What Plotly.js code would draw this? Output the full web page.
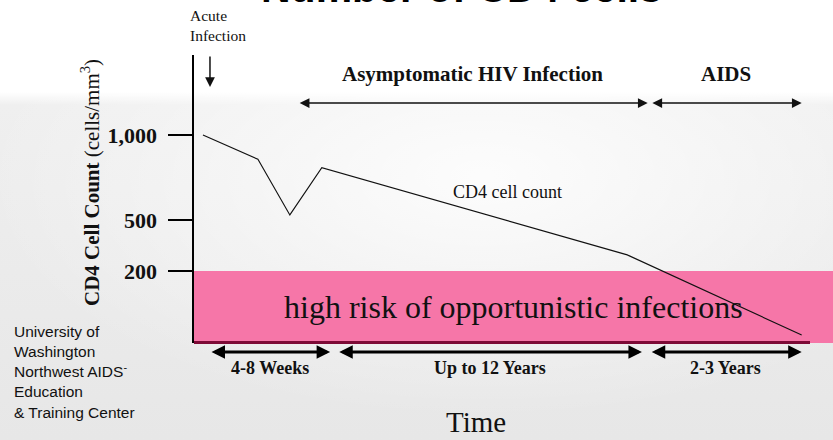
<!DOCTYPE html>
<html>
<head>
<meta charset="utf-8">
<script src="https://cdn.plot.ly/plotly-3.0.1.min.js"></script>
<style>
  html, body { margin: 0; padding: 0; }
  body {
    width: 833px; height: 440px; overflow: hidden;
    background:
      radial-gradient(ellipse 60% 55% at 58% 40%, rgba(255,255,255,0.85), rgba(255,255,255,0) 100%),
      linear-gradient(to bottom, #ffffff 0px, #ffffff 92px, #efefef 105px, #e7e7e7 440px);
  }
  #chart { width: 833px; height: 440px; }
</style>
</head>
<body>
<div id="chart"></div>
<script>
// ---- data ----
const time = [1.4, 10, 15, 20, 67.8, 95.1];          // arbitrary time units
const cd4 = [1000, 857, 530, 808, 295, -176];        // schematic CD4 count
const tickVals = [200, 500, 1000];
const tickText = ['200', '500', '1,000'];
const riskThreshold = 200;
const yRange = [-223, 1470];
const xRange = [0, 100];

const phaseNames = ['Asymptomatic HIV Infection', 'AIDS'];
const phaseStart = [16.3, 71.5];
const phaseEnd = [71.0, 95.1];

const durationLabels = ['4-8 Weeks', 'Up to 12 Years', '2-3 Years'];
const durationStart = [2.5, 22.5, 71.4];
const durationEnd = [21.3, 70.1, 95.1];

const acuteTime = 2.5;
const lineLabel = 'CD4 cell count';
const lineLabelPos = {x: 49, y: 665};
const axisEnd = 96.4;

// ---- fonts ----
const SERIF = '"Liberation Serif", "Times New Roman", Times, serif';
const SANS = '"Liberation Sans", Arial, Helvetica, sans-serif';

const annotations = [];

// Title (cut off at the top in the original)
annotations.push({
  xref: 'paper', yref: 'paper', x: 0.418, y: 1, yshift: 67, xanchor: 'center', yanchor: 'middle',
  text: '<b>Number of CD4 cells</b>', showarrow: false,
  font: {family: SANS, size: 41, color: '#000'}
});

// Acute infection label + arrow
annotations.push({
  xref: 'paper', yref: 'paper', x: -0.0094, y: 1.103, xanchor: 'left', yanchor: 'middle', align: 'left',
  text: 'Acute<br>Infection', showarrow: false,
  font: {family: SERIF, size: 15.5, color: '#111'}
});
annotations.push({
  xref: 'x', yref: 'paper', x: acuteTime, y: 0.889, axref: 'pixel', ayref: 'pixel', ax: 0, ay: -32,
  text: '', showarrow: true, arrowhead: 2, arrowsize: 1.3, arrowwidth: 1.5, arrowcolor: '#111',
  standoff: 0, startstandoff: 0
});

// Phase labels and arrows (top)
phaseNames.forEach((name, i) => {
  annotations.push({
    xref: 'x', yref: 'paper', x: (phaseStart[i] + phaseEnd[i]) / 2, y: 0.934,
    xanchor: 'center', yanchor: 'middle', text: '<b>' + name + '</b>', showarrow: false,
    font: {family: SERIF, size: 21, color: '#111'}
  });
  annotations.push({
    xref: 'x', yref: 'paper', x: phaseEnd[i], y: 0.833, axref: 'x', ayref: 'pixel', ax: phaseStart[i], ay: 0,
    text: '', showarrow: true, arrowhead: 2, arrowside: 'end+start', arrowsize: 1.3, arrowwidth: 1.5,
    arrowcolor: '#111', standoff: 0, startstandoff: 0
  });
});

// Duration labels and arrows (bottom)
durationLabels.forEach((name, i) => {
  annotations.push({
    xref: 'x', yref: 'paper', x: (durationStart[i] + durationEnd[i]) / 2, y: -0.0868,
    xanchor: 'center', yanchor: 'middle', text: '<b>' + name + '</b>', showarrow: false,
    font: {family: SERIF, size: 18, color: '#111'}
  });
  annotations.push({
    xref: 'x', yref: 'paper', x: durationEnd[i], y: -0.03125, axref: 'x', ayref: 'pixel', ax: durationStart[i], ay: 0,
    text: '', showarrow: true, arrowhead: 2, arrowside: 'end+start', arrowsize: 0.9, arrowwidth: 3,
    arrowcolor: '#000', standoff: 0, startstandoff: 0
  });
});

// Line label
annotations.push({
  xref: 'x', yref: 'y', x: lineLabelPos.x, y: lineLabelPos.y, xanchor: 'center', yanchor: 'middle',
  text: lineLabel, showarrow: false, font: {family: SERIF, size: 18, color: '#111'}
});

// Risk box text
annotations.push({
  xref: 'paper', yref: 'paper', x: 0.4995, y: 0.125, xanchor: 'center', yanchor: 'middle',
  text: 'high risk of opportunistic infections', showarrow: false,
  font: {family: SERIF, size: 32, color: '#111'}
});

// Y axis title
annotations.push({
  xref: 'paper', yref: 'paper', x: -0.1628, y: 0.559, xanchor: 'center', yanchor: 'middle', textangle: -90,
  text: '<b>CD4 Cell Count</b> (cells/mm<sup>3</sup>)', showarrow: false,
  font: {family: SERIF, size: 21, color: '#111'}
});

// X axis title
annotations.push({
  xref: 'paper', yref: 'paper', x: 0.442, y: -0.275, xanchor: 'center', yanchor: 'middle',
  text: 'Time', showarrow: false, font: {family: SERIF, size: 29, color: '#111'}
});

// Credit text
annotations.push({
  xref: 'paper', yref: 'paper', x: -0.2848, y: -0.1007, xanchor: 'left', yanchor: 'middle', align: 'left',
  text: 'University of<br>Washington<br>Northwest AIDS<sup>-</sup><br>Education<br>&amp; Training Center',
  showarrow: false, font: {family: SANS, size: 15.5, color: '#111'}
});

const shapes = [
  {
    type: 'rect', layer: 'below', xref: 'paper', yref: 'y',
    x0: 0, x1: 1, y0: yRange[0], y1: riskThreshold,
    fillcolor: '#f676a8', line: {width: 0}
  },
  {
    type: 'line', layer: 'above', xref: 'x', yref: 'paper',
    x0: xRange[0], x1: axisEnd, y0: 0.002, y1: 0.002,
    line: {color: '#7d0a36', width: 3}
  }
];

const traces = [{
  type: 'scatter', mode: 'lines', x: time, y: cd4,
  line: {color: '#111', width: 1.1}, hoverinfo: 'skip', showlegend: false
}];

const layout = {
  width: 833, height: 440,
  margin: {l: 194, r: 0, t: 55, b: 97, pad: 0},
  paper_bgcolor: 'rgba(0,0,0,0)', plot_bgcolor: 'rgba(0,0,0,0)',
  showlegend: false,
  xaxis: {range: xRange, visible: false, fixedrange: true},
  yaxis: {
    range: yRange, showgrid: false, zeroline: false,
    showline: true, linecolor: '#000', linewidth: 2.5,
    ticks: 'outside', ticklen: 24, tickwidth: 2.5, tickcolor: '#000',
    tickvals: tickVals, ticktext: tickText.map(t => '<b>' + t + '</b>'),
    tickfont: {family: SERIF, size: 22, color: '#111'},
    ticklabelstandoff: 6, fixedrange: true
  },
  shapes: shapes,
  annotations: annotations
};

Plotly.newPlot('chart', traces, layout, {displayModeBar: false, staticPlot: true});
</script>
</body>
</html>
